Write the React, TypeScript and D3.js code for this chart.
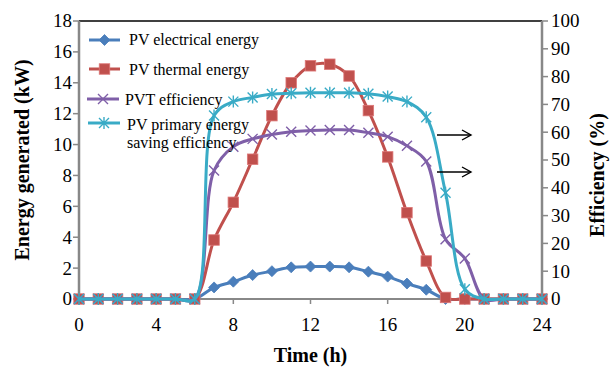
import React from "react";
import * as d3 from "d3";

// Hourly values over one day
const hours = [0, 1, 2, 3, 4, 5, 6, 7, 8, 9, 10, 11, 12, 13, 14, 15, 16, 17, 18, 19, 20, 21, 22, 23, 24];
// kW (left axis)
const pvElectrical = [0, 0, 0, 0, 0, 0, 0, 0.75, 1.12, 1.55, 1.8, 2.05, 2.1, 2.1, 2.05, 1.77, 1.45, 1.0, 0.6, 0, 0, 0, 0, 0, 0];
const pvThermal = [0, 0, 0, 0, 0, 0, 0, 3.82, 6.26, 9.05, 11.87, 14.0, 15.1, 15.2, 14.44, 12.2, 9.2, 5.59, 2.46, 0.1, 0, 0, 0, 0, 0];
// % (right axis)
const pvtEfficiency = [0, 0, 0, 0, 0, 0, 0, 46.2, 54.8, 57.6, 59.2, 60.2, 60.6, 60.8, 60.8, 59.8, 58.4, 55.1, 49.5, 21.5, 14.6, 0, 0, 0, 0];
const primarySaving = [0, 0, 0, 0, 0, 0, 0, 66, 71, 72.5, 73.7, 74, 74.2, 74.2, 74.2, 73.8, 72.8, 71, 65.4, 38.2, 3.5, 0, 0, 0, 0];

const xTicks = [0, 4, 8, 12, 16, 20, 24];
const leftTicks = [0, 2, 4, 6, 8, 10, 12, 14, 16, 18];
const rightTicks = [0, 10, 20, 30, 40, 50, 60, 70, 80, 90, 100];

const legendLabels = ["PV electrical energy", "PV thermal energy", "PVT efficiency", "PV primary energy", "saving efficiency"];

const BLUE = "#4a7ebb";
const RED = "#c0504d";
const PURPLE = "#7f5fa8";
const CYAN = "#39abc6";
const AXIS = "#888888";
const FONT = "'Liberation Serif', 'Times New Roman', serif";

const left = 79, right = 542, top = 21, bottom = 299;

const x = d3.scaleLinear().domain([0, 24]).range([left, right]);
const yL = d3.scaleLinear().domain([0, 18]).range([bottom, top]);
const yR = d3.scaleLinear().domain([0, 100]).range([bottom, top]);

function pathFor(values: number[], y: d3.ScaleLinear<number, number>) {
  const gen = d3
    .line<number>()
    .x((_, i) => x(hours[i]))
    .y((v) => y(v))
    .curve(d3.curveCatmullRom.alpha(0.5));
  return gen(values) || "";
}

function Diamond({ cx, cy }: { cx: number; cy: number }) {
  const r = 5.5;
  return <path d={`M${cx},${cy - r}L${cx + r},${cy}L${cx},${cy + r}L${cx - r},${cy}Z`} fill={BLUE} stroke={BLUE} strokeWidth={0.8} />;
}
function Square({ cx, cy }: { cx: number; cy: number }) {
  const s = 10.5;
  return <rect x={cx - s / 2} y={cy - s / 2} width={s} height={s} fill={RED} stroke="#d77" strokeWidth={0.8} />;
}
function Cross({ cx, cy }: { cx: number; cy: number }) {
  const r = 5;
  return (
    <path d={`M${cx - r},${cy - r}L${cx + r},${cy + r}M${cx - r},${cy + r}L${cx + r},${cy - r}`} stroke={PURPLE} strokeWidth={1.4} fill="none" />
  );
}
function Star({ cx, cy }: { cx: number; cy: number }) {
  const r = 5;
  return (
    <path
      d={`M${cx - r},${cy - r}L${cx + r},${cy + r}M${cx - r},${cy + r}L${cx + r},${cy - r}M${cx},${cy - r * 1.2}L${cx},${cy + r * 1.2}`}
      stroke={CYAN}
      strokeWidth={1.4}
      fill="none"
    />
  );
}

function Arrow({ x1, x2, y }: { x1: number; x2: number; y: number }) {
  return (
    <g stroke="#000" strokeWidth={1.4} fill="none">
      <line x1={x1} y1={y} x2={x2} y2={y} />
      <path d={`M${x2 - 9},${y - 5}L${x2},${y}L${x2 - 9},${y + 5}`} />
    </g>
  );
}

export default function App() {
  return (
    <svg width={612} height={367} style={{ position: "absolute", left: 0, top: 0, background: "#fff" }} fontFamily={FONT}>
      {/* frame */}
      <line x1={left} y1={top} x2={right} y2={top} stroke="#000" strokeWidth={1.5} />
      <line x1={left} y1={top} x2={left} y2={bottom} stroke={AXIS} strokeWidth={2.5} />
      <line x1={right} y1={top} x2={right} y2={bottom} stroke={AXIS} strokeWidth={2.5} />
      <line x1={left} y1={bottom} x2={right} y2={bottom} stroke={AXIS} strokeWidth={2} />

      {/* left axis */}
      {leftTicks.map((t) => (
        <g key={"l" + t}>
          <line x1={left - 6} x2={left} y1={yL(t)} y2={yL(t)} stroke={AXIS} strokeWidth={1.5} />
          <text x={left - 7} y={yL(t)} dy="0.34em" textAnchor="end" fontSize={19}>
            {t}
          </text>
        </g>
      ))}
      {/* right axis */}
      {rightTicks.map((t) => (
        <g key={"r" + t}>
          <line x1={right} x2={right + 6} y1={yR(t)} y2={yR(t)} stroke={AXIS} strokeWidth={1.5} />
          <text x={right + 9} y={yR(t)} dy="0.34em" textAnchor="start" fontSize={19}>
            {t}
          </text>
        </g>
      ))}
      {/* bottom axis */}
      {xTicks.map((t) => (
        <g key={"x" + t}>
          <line x1={x(t)} x2={x(t)} y1={bottom} y2={bottom + 5} stroke={AXIS} strokeWidth={1.5} />
          <text x={x(t)} y={bottom + 32} textAnchor="middle" fontSize={19}>
            {t}
          </text>
        </g>
      ))}

      {/* titles */}
      <text x={(left + right) / 2} y={362} textAnchor="middle" fontSize={20} fontWeight="bold">
        Time (h)
      </text>
      <text transform={`translate(29,${(top + bottom) / 2}) rotate(-90)`} textAnchor="middle" fontSize={20} fontWeight="bold">
        Energy generated (kW)
      </text>
      <text transform={`translate(604,${(top + bottom) / 2 + 15}) rotate(-90)`} textAnchor="middle" fontSize={20} fontWeight="bold">
        Efficiency (%)
      </text>

      {/* series */}
      <path d={pathFor(pvElectrical, yL)} stroke={BLUE} strokeWidth={3} fill="none" />
      {pvElectrical.map((v, i) => (
        <Diamond key={"b" + i} cx={x(hours[i])} cy={yL(v)} />
      ))}
      <path d={pathFor(pvThermal, yL)} stroke={RED} strokeWidth={3} fill="none" />
      {pvThermal.map((v, i) => (
        <Square key={"s" + i} cx={x(hours[i])} cy={yL(v)} />
      ))}
      <path d={pathFor(pvtEfficiency, yR)} stroke={PURPLE} strokeWidth={3} fill="none" />
      {pvtEfficiency.map((v, i) => (
        <Cross key={"p" + i} cx={x(hours[i])} cy={yR(v)} />
      ))}
      <path d={pathFor(primarySaving, yR)} stroke={CYAN} strokeWidth={3} fill="none" />
      {primarySaving.map((v, i) => (
        <Star key={"c" + i} cx={x(hours[i])} cy={yR(v)} />
      ))}

      {/* arrows pointing to the right-hand axis */}
      <Arrow x1={437} x2={471} y={135} />
      <Arrow x1={437} x2={471} y={172} />

      {/* legend */}
      <g fontSize={16}>
        <line x1={89} x2={120} y1={40} y2={40} stroke={BLUE} strokeWidth={3} />
        <Diamond cx={104.5} cy={40} />
        <text x={129} y={45}>{legendLabels[0]}</text>

        <line x1={89} x2={120} y1={69} y2={69} stroke={RED} strokeWidth={3} />
        <Square cx={104.5} cy={69} />
        <text x={129} y={75}>{legendLabels[1]}</text>

        <line x1={87} x2={119} y1={99} y2={99} stroke={PURPLE} strokeWidth={3} />
        <Cross cx={103} cy={99} />
        <text x={125} y={105}>{legendLabels[2]}</text>

        <line x1={88} x2={120} y1={123} y2={123} stroke={CYAN} strokeWidth={3} />
        <Star cx={104} cy={123} />
        <text x={127} y={130}>{legendLabels[3]}</text>
        <text x={127} y={148}>{legendLabels[4]}</text>
      </g>
    </svg>
  );
}
